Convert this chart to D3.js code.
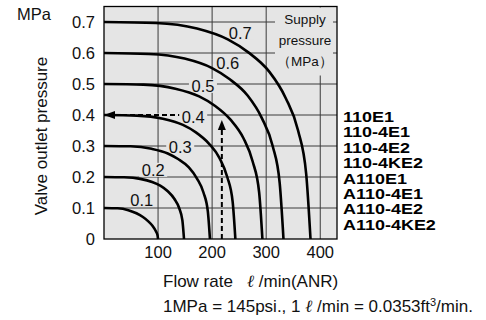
<!DOCTYPE html>
<html>
<head>
<meta charset="utf-8">
<script src="https://cdn.jsdelivr.net/npm/d3@7/dist/d3.min.js"></script>
<style>
body { margin: 0; background: #fff; }
svg { display: block; font-family: "Liberation Sans", Arial, sans-serif; }
</style>
</head>
<body>
<div id="chart"></div>
<script>
// chart values
var supply = [0.1, 0.2, 0.3, 0.4, 0.5, 0.6, 0.7];
var c01 = [[0,0.1],[25,0.099],[45,0.093],[60,0.083],[72,0.071],[82,0.057],[90,0.042],[96,0.025],[99,0.012],[100,0]];
var c02 = [[0,0.2],[37,0.199],[67,0.194],[89,0.184],[104,0.172],[118,0.154],[130,0.13],[139,0.1],[145,0.06],[148,0]];
var c03 = [[0,0.3],[49,0.299],[88,0.291],[118,0.276],[137,0.258],[157,0.231],[172,0.195],[184,0.15],[192,0.09],[196,0]];
var c04 = [[0,0.4],[61,0.398],[109,0.388],[146,0.368],[170,0.344],[194,0.308],[214,0.26],[228,0.2],[238,0.12],[243,0]];
var c05 = [[0,0.5],[73,0.498],[132,0.485],[176,0.46],[205,0.43],[234,0.385],[258,0.325],[275,0.25],[287,0.15],[293,0]];
var c06 = [[0,0.6],[83,0.597],[149,0.582],[199,0.552],[232,0.516],[266,0.462],[292,0.39],[312,0.3],[325,0.18],[332,0]];
var c07 = [[0,0.7],[96,0.697],[172,0.679],[229,0.644],[267,0.602],[306,0.539],[336,0.455],[359,0.35],[374,0.21],[382,0]];
var curves = [c01, c02, c03, c04, c05, c06, c07];

// where each supply label sits (flow, pressure)
var labelFlow = [70, 91, 141, 165, 183, 229, 252];
var labelPres = [0.126, 0.223, 0.297, 0.394, 0.494, 0.568, 0.665];

var xTicks = [100, 200, 300, 400];
var yTicks = [0, 0.1, 0.2, 0.3, 0.4, 0.5, 0.6, 0.7];
var models = ["110E1", "110-4E1", "110-4E2", "110-4KE2", "A110E1", "A110-4E1", "A110-4E2", "A110-4KE2"];

// example reading: 0.5 MPa supply, 218 l/min -> 0.4 MPa
var opFlow = 218;
var opPres = 0.4;

var width = 486, height = 320;
var bg = "#e5e5e5";

var svg = d3.select("#chart").append("svg")
	.attr("width", width)
	.attr("height", height);

var x = d3.scaleLinear().domain([0, 431]).range([104, 337]);
var y = d3.scaleLinear().domain([0, 0.75]).range([239, 6.5]);

// plot background
svg.append("rect")
	.attr("x", x(0)).attr("y", y(0.75))
	.attr("width", x(431) - x(0)).attr("height", y(0) - y(0.75))
	.attr("fill", bg);

// grid
var grid = svg.append("g").attr("stroke", "#3a3a3a").attr("stroke-width", 1);
grid.selectAll("line.v")
	.data(xTicks)
	.enter().append("line")
	.attr("class", "v")
	.attr("x1", d => x(d)).attr("x2", d => x(d))
	.attr("y1", y(0)).attr("y2", y(0.75));
grid.selectAll("line.h")
	.data(yTicks.filter(d => d > 0))
	.enter().append("line")
	.attr("class", "h")
	.attr("x1", x(0)).attr("x2", x(431))
	.attr("y1", d => y(d)).attr("y2", d => y(d));

// box for the "Supply pressure" note hides the grid under it
svg.append("rect")
	.attr("x", 275).attr("y", y(0.75) + 1)
	.attr("width", 58).attr("height", 68)
	.attr("fill", bg);

// frame
svg.append("rect")
	.attr("x", x(0)).attr("y", y(0.75))
	.attr("width", x(431) - x(0)).attr("height", y(0) - y(0.75))
	.attr("fill", "none")
	.attr("stroke", "#000")
	.attr("stroke-width", 1.3);

// dashed reading lines
var dashG = svg.append("g");
dashG.append("line")
	.attr("x1", x(0) + 10).attr("x2", x(labelFlow[3]) - 13)
	.attr("y1", y(opPres)).attr("y2", y(opPres))
	.attr("stroke", bg).attr("stroke-width", 3);
dashG.append("line")
	.attr("x1", x(0) + 10).attr("x2", x(labelFlow[3]) - 13)
	.attr("y1", y(opPres)).attr("y2", y(opPres))
	.attr("stroke", "#000").attr("stroke-width", 1.8)
	.attr("stroke-dasharray", "5,3");
dashG.append("line")
	.attr("x1", x(opFlow)).attr("x2", x(opFlow))
	.attr("y1", y(0)).attr("y2", y(opPres) + 12)
	.attr("stroke", "#000").attr("stroke-width", 2)
	.attr("stroke-dasharray", "5,3");

// label backgrounds, so the grid breaks around them
svg.selectAll("rect.lblbg")
	.data(supply)
	.enter().append("rect")
	.attr("class", "lblbg")
	.attr("x", (d, i) => x(labelFlow[i]) - 14)
	.attr("y", (d, i) => y(labelPres[i]) - 7)
	.attr("width", 28).attr("height", 14)
	.attr("fill", bg);

// curves
var line = d3.line()
	.x(d => x(d[0]))
	.y(d => y(d[1]))
	.curve(d3.curveMonotoneX);

svg.append("g").selectAll("path")
	.data(curves)
	.enter().append("path")
	.attr("d", line)
	.attr("fill", "none")
	.attr("stroke", "#000")
	.attr("stroke-width", 2.6);

// arrow heads
var ax = x(0), ay = y(opPres);
svg.append("path")
	.attr("d", "M" + ax + "," + ay + "L" + (ax + 11) + "," + (ay - 4) + "L" + (ax + 11) + "," + (ay + 4) + "Z")
	.attr("fill", "#000");
var ux = x(opFlow), uy = y(opPres) + 5;
svg.append("path")
	.attr("d", "M" + ux + "," + uy + "L" + (ux - 4) + "," + (uy + 10) + "L" + (ux + 4) + "," + (uy + 10) + "Z")
	.attr("fill", "#000");

// curve labels
svg.selectAll("text.lbl")
	.data(supply)
	.enter().append("text")
	.attr("class", "lbl")
	.attr("x", (d, i) => x(labelFlow[i]))
	.attr("y", (d, i) => y(labelPres[i]))
	.attr("dy", "0.36em")
	.attr("text-anchor", "middle")
	.attr("font-size", 16.5)
	.attr("fill", "#111")
	.text(d => d.toFixed(1));

// supply pressure note
svg.selectAll("text.note")
	.data(["Supply", "pressure", "（MPa）"])
	.enter().append("text")
	.attr("class", "note")
	.attr("x", 305)
	.attr("y", (d, i) => 24 + i * 21)
	.attr("text-anchor", "middle")
	.attr("font-size", 13.5)
	.attr("fill", "#111")
	.text(d => d);

// tick labels
svg.selectAll("text.yt")
	.data(yTicks)
	.enter().append("text")
	.attr("class", "yt")
	.attr("x", 95)
	.attr("y", d => y(d))
	.attr("dy", "0.36em")
	.attr("text-anchor", "end")
	.attr("font-size", 16.5)
	.attr("fill", "#111")
	.text(d => d === 0 ? "0" : d.toFixed(1));

svg.selectAll("text.xt")
	.data(xTicks)
	.enter().append("text")
	.attr("class", "xt")
	.attr("x", d => x(d))
	.attr("y", 258)
	.attr("text-anchor", "middle")
	.attr("font-size", 16.5)
	.attr("fill", "#111")
	.text(d => d);

// axis titles
svg.append("text")
	.attr("x", 17).attr("y", 20)
	.attr("font-size", 16.5)
	.attr("fill", "#111")
	.text("MPa");

svg.append("text")
	.attr("transform", "translate(47,136) rotate(-90)")
	.attr("text-anchor", "middle")
	.attr("font-size", 17)
	.attr("fill", "#111")
	.text("Valve outlet pressure");

var xt = svg.append("text")
	.attr("x", 163).attr("y", 287)
	.attr("font-size", 17)
	.attr("fill", "#111");
xt.append("tspan").text("Flow rate");
xt.append("tspan").attr("x", 247).attr("font-style", "italic").attr("font-family", "DejaVu Serif").text("ℓ");
xt.append("tspan").text(" /min(ANR)");

var ft = svg.append("text")
	.attr("x", 163).attr("y", 312)
	.attr("font-size", 17)
	.attr("fill", "#111");
ft.append("tspan").text("1MPa = 145psi., 1 ");
ft.append("tspan").attr("font-style", "italic").attr("font-family", "DejaVu Serif").text("ℓ");
ft.append("tspan").text(" /min = 0.0353ft");
ft.append("tspan").attr("font-size", 11).attr("dy", -6).text("3");
ft.append("tspan").attr("dy", 6).text("/min.");

// model list, widened like the original type
svg.append("g")
	.attr("transform", "translate(343,0) scale(1.16,1)")
	.selectAll("text.model")
	.data(models)
	.enter().append("text")
	.attr("class", "model")
	.attr("x", 0)
	.attr("y", (d, i) => 122 + i * 15.4)
	.attr("font-size", 15.5)
	.attr("font-weight", "bold")
	.attr("fill", "#000")
	.text(d => d);
</script>
</body>
</html>
